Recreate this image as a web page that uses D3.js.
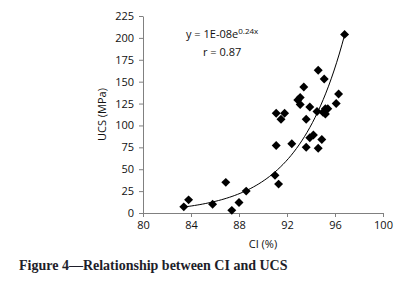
<!DOCTYPE html>
<html>
<head>
<meta charset="utf-8">
<script src="https://cdn.jsdelivr.net/npm/d3@7"></script>
<style>
  body { margin: 0; background: #fff; }
  svg text { font-family: "Open Sans", "Noto Sans", sans-serif; }
</style>
</head>
<body>
<div id="chart"></div>
<script>
// data
var ci  = [83.4, 83.8, 85.8, 86.9, 87.4, 88.0, 88.6, 91.0, 91.3, 91.1, 91.1, 91.5, 91.8, 92.4,
           92.9, 93.1, 93.1, 93.4, 93.6, 93.6, 93.9, 93.9, 94.2, 94.5, 94.6, 94.6, 94.9, 95.1,
           95.0, 95.2, 95.2, 95.4, 96.1, 96.3, 96.8];
var ucs = [7, 15, 10, 35, 3, 12, 25, 43, 33, 77, 114, 107, 114, 79,
           129, 132, 124, 144, 107, 75, 121, 86, 89, 116, 163, 74, 84, 153,
           115, 113, 119, 119, 125, 136, 204];
var xTicks = [80, 84, 88, 92, 96, 100];
var yTicks = [0, 25, 50, 75, 100, 125, 150, 175, 200, 225];
// exponential trend y = a*e^(b*x)
var trendA = 4.7e-9, trendB = 0.253;
var trendRange = [83.4, 96.8];

var W = 410, H = 286;
var margin = {left: 143, top: 16, right: 27, bottom: 73};
var width = W - margin.left - margin.right;
var height = H - margin.top - margin.bottom;

var svg = d3.select('#chart').append('svg').attr('width', W).attr('height', H);
var g = svg.append('g').attr('transform', 'translate(' + margin.left + ',' + margin.top + ')');

var x = d3.scaleLinear().domain([80, 100]).range([0, width]);
var y = d3.scaleLinear().domain([0, 225]).range([height, 0]);

var xAxis = g.append('g').attr('transform', 'translate(0,' + height + ')')
    .call(d3.axisBottom(x).tickValues(xTicks).tickSize(4).tickSizeOuter(0).tickPadding(4));
var yAxis = g.append('g')
    .call(d3.axisLeft(y).tickValues(yTicks).tickSize(4).tickSizeOuter(0).tickPadding(5));
[xAxis, yAxis].forEach(function(a){
    a.select('.domain').attr('stroke', '#808080');
    a.selectAll('.tick line').attr('stroke', '#808080');
    a.selectAll('.tick text').attr('font-size', 11).attr('fill', '#111')
        .style('font-family', '"Open Sans", sans-serif');
});

// trend line
var tx = d3.range(0, 61).map(function(i){ return trendRange[0] + (trendRange[1]-trendRange[0]) * i / 60; });
g.append('path')
    .datum(tx)
    .attr('fill', 'none').attr('stroke', '#000').attr('stroke-width', 1)
    .attr('d', d3.line().x(function(d){ return x(d); }).y(function(d){ return y(trendA*Math.exp(trendB*d)); }));

// points
var diamond = d3.symbol().type(d3.symbolDiamond2).size(46);
g.selectAll('path.pt').data(ci).enter().append('path')
    .attr('class', 'pt')
    .attr('transform', function(d, i){ return 'translate(' + x(d) + ',' + y(ucs[i]) + ') rotate(45)'; })
    .attr('d', d3.symbol().type(d3.symbolSquare).size(40))
    .attr('fill', '#000');

// equation
var eq = g.append('text').attr('x', 43).attr('y', 22).attr('font-size', 11).attr('fill', '#111');
eq.append('tspan').text('y = 1E-08e');
eq.append('tspan').attr('dy', -4).attr('font-size', 8).text('0.24x');
g.append('text').attr('x', 60).attr('y', 40).attr('font-size', 11).attr('fill', '#111').text('r = 0.87');

// axis titles
svg.append('text').attr('x', margin.left + width/2).attr('y', 248).attr('text-anchor', 'middle')
    .attr('font-size', 11).attr('fill', '#111').text('CI (%)');
svg.append('text').attr('transform', 'translate(106,' + (margin.top + height/2) + ') rotate(-90)')
    .attr('text-anchor', 'middle').attr('font-size', 11).attr('fill', '#111').text('UCS (MPa)');

// caption
svg.append('text').attr('x', 19).attr('y', 270)
    .style('font-family', '"Liberation Serif", "DejaVu Serif", serif')
    .attr('font-weight', 'bold').attr('font-size', 14).attr('fill', '#1e1e2a')
    .text('Figure 4\u2014Relationship between CI and UCS');
</script>
</body>
</html>
